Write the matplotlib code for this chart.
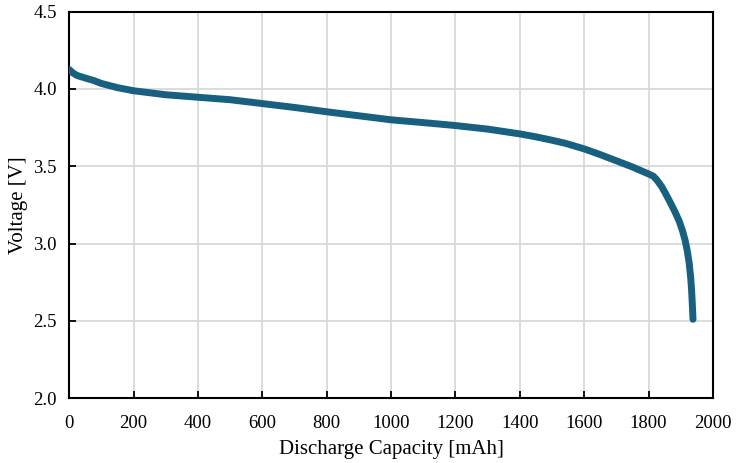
import numpy as np
import matplotlib.pyplot as plt

# discharge curve
capacity = [0, 10, 24, 50, 76, 100, 150, 200, 300, 400, 500, 600, 700, 800, 900,
            1000, 1100, 1200, 1300, 1400, 1450, 1500, 1540, 1600, 1646, 1700,
            1750, 1800, 1815, 1826, 1840, 1851, 1865, 1882, 1895, 1905, 1913,
            1920, 1926, 1931, 1934, 1936, 1938]
voltage = [4.125, 4.105, 4.087, 4.07, 4.054, 4.035, 4.008, 3.988, 3.962, 3.946,
           3.93, 3.905, 3.88, 3.852, 3.826, 3.80, 3.782, 3.763, 3.74, 3.709,
           3.69, 3.668, 3.649, 3.612, 3.578, 3.535, 3.495, 3.45, 3.435, 3.41,
           3.37, 3.33, 3.275, 3.205, 3.145, 3.085, 3.025, 2.955, 2.875, 2.775,
           2.685, 2.60, 2.51]

xticks = np.arange(0, 2001, 200)
yticks = np.arange(2.0, 4.51, 0.5)

plt.rcParams['font.family'] = ['Liberation Serif', 'DejaVu Serif']

fig, ax = plt.subplots(figsize=(7.45, 4.63), dpi=100)
fig.subplots_adjust(left=0.093, right=0.957, top=0.975, bottom=0.14)

ax.plot(capacity, voltage, color='#17607f', lw=5, solid_capstyle='round',
        solid_joinstyle='round', zorder=3)

ax.set_xlim(0, 2000)
ax.set_ylim(2.0, 4.5)
ax.set_xticks(xticks)
ax.set_yticks(yticks)
ax.set_yticklabels([f'{v:.1f}' for v in yticks])
ax.grid(True, color='#d9d9d9', lw=1.3)
ax.set_axisbelow(True)
ax.tick_params(direction='in', length=5, width=1.3, labelsize=13.5)
ax.tick_params(axis='x', pad=12)
ax.tick_params(axis='y', pad=9)
for s in ax.spines.values():
    s.set_linewidth(1.5)

ax.set_xlabel('Discharge Capacity [mAh]', fontsize=15, labelpad=6)
ax.set_ylabel('Voltage [V]', fontsize=15, labelpad=4)

fig.savefig('out.png', dpi=100)
